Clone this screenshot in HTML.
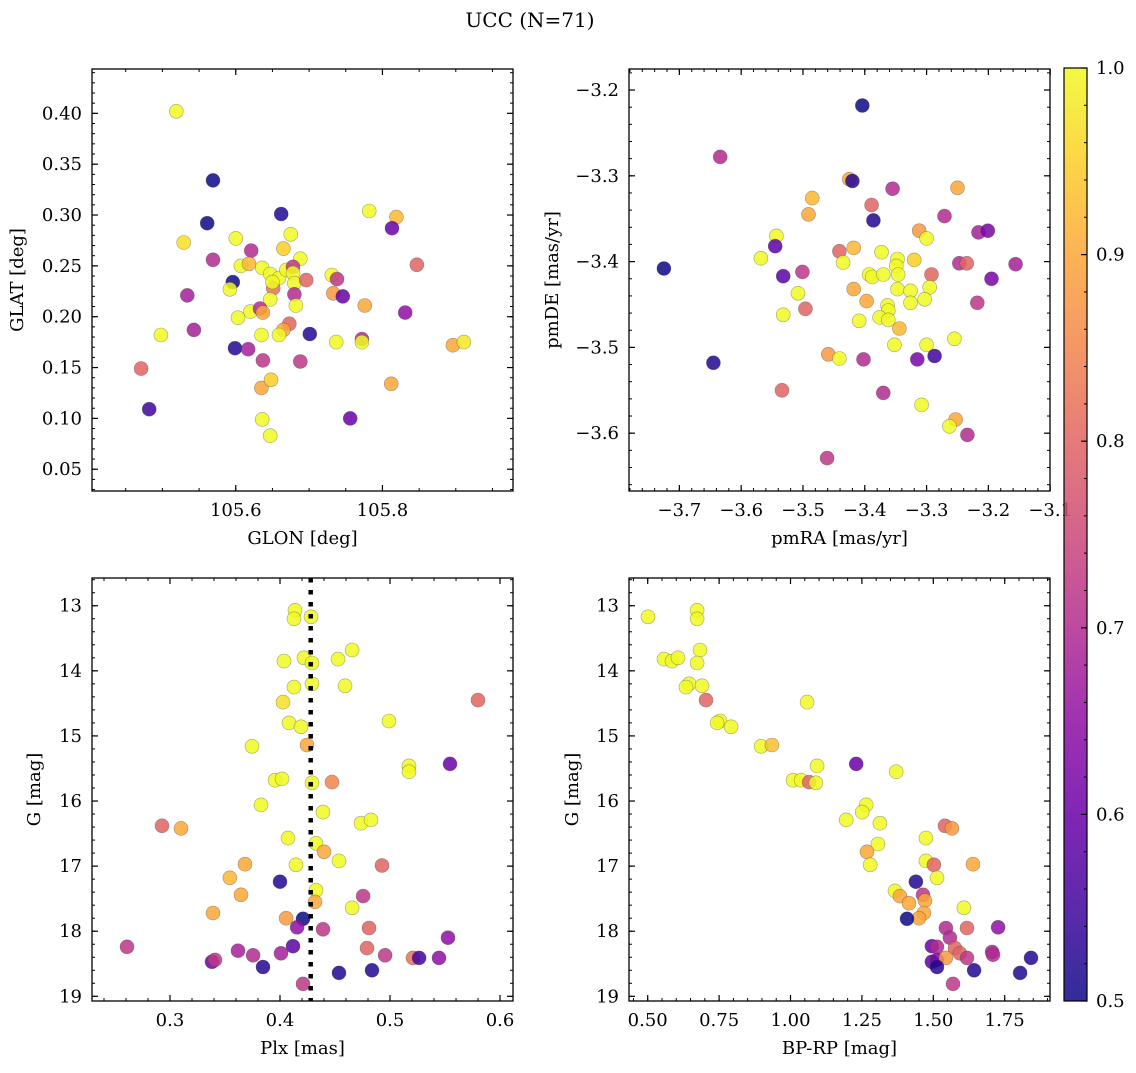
<!DOCTYPE html>
<html><head><meta charset="utf-8"><style>
html,body{margin:0;padding:0;background:#fff;}
svg text{font-family:"DejaVu Serif","Liberation Serif",serif;fill:#000;}
</style></head><body>
<svg id="fig" width="1136" height="1068" viewBox="0 0 1136 1068" xmlns="http://www.w3.org/2000/svg">
<text x="530" y="27" text-anchor="middle" font-size="20">UCC (N=71)</text>
</svg>
<script>
// ---- Panel 1: GLON vs GLAT ----
const glon = [105.519,105.569,105.662,105.561,105.782,105.819,105.813,105.529,105.600,105.675,105.569,105.621,105.665,105.688,105.607,105.618,105.636,105.647,105.659,105.669,105.678,105.678,105.680,105.696,105.651,105.650,105.847,105.596,105.592,105.534,105.647,105.680,105.682,105.731,105.738,105.733,105.746,105.776,105.831,105.620,105.633,105.637,105.603,105.673,105.665,105.659,105.635,105.701,105.543,105.498,105.737,105.772,105.772,105.896,105.911,105.599,105.617,105.637,105.688,105.471,105.635,105.648,105.812,105.482,105.756,105.636,105.647];
const glat = [0.402,0.334,0.301,0.292,0.304,0.298,0.287,0.273,0.277,0.281,0.256,0.265,0.267,0.257,0.250,0.252,0.248,0.242,0.238,0.246,0.249,0.243,0.233,0.236,0.228,0.234,0.251,0.234,0.227,0.221,0.217,0.222,0.211,0.241,0.237,0.223,0.220,0.211,0.204,0.205,0.208,0.204,0.199,0.193,0.187,0.182,0.182,0.183,0.187,0.182,0.175,0.178,0.175,0.172,0.175,0.169,0.168,0.157,0.156,0.149,0.130,0.138,0.134,0.109,0.100,0.099,0.083];
const prob1 = [1.0,0.5,0.52,0.5,1.0,0.92,0.6,0.97,1.0,1.0,0.7,0.7,0.95,1.0,1.0,0.92,1.0,1.0,1.0,1.0,0.72,1.0,1.0,0.8,0.82,1.0,0.8,0.5,1.0,0.68,1.0,0.7,1.0,1.0,0.72,0.88,0.6,0.9,0.65,1.0,0.7,0.9,1.0,0.8,0.9,1.0,1.0,0.52,0.68,1.0,1.0,0.7,1.0,0.9,0.98,0.52,0.68,0.72,0.72,0.8,0.9,0.95,0.9,0.55,0.6,1.0,1.0];
// ---- Panel 2: pmRA vs pmDE ----
const pmra = [-3.404,-3.634,-3.425,-3.420,-3.355,-3.250,-3.485,-3.491,-3.389,-3.386,-3.271,-3.312,-3.300,-3.216,-3.201,-3.543,-3.545,-3.568,-3.441,-3.418,-3.435,-3.373,-3.347,-3.349,-3.320,-3.247,-3.235,-3.156,-3.725,-3.532,-3.501,-3.393,-3.388,-3.370,-3.346,-3.292,-3.195,-3.508,-3.418,-3.347,-3.326,-3.295,-3.303,-3.326,-3.397,-3.363,-3.362,-3.376,-3.362,-3.496,-3.218,-3.532,-3.409,-3.344,-3.352,-3.300,-3.255,-3.315,-3.287,-3.459,-3.441,-3.402,-3.645,-3.534,-3.370,-3.308,-3.253,-3.263,-3.234,-3.461];
const pmde = [-3.218,-3.278,-3.304,-3.306,-3.315,-3.314,-3.326,-3.345,-3.334,-3.352,-3.347,-3.364,-3.373,-3.366,-3.364,-3.370,-3.382,-3.396,-3.388,-3.384,-3.401,-3.389,-3.397,-3.405,-3.398,-3.402,-3.402,-3.403,-3.408,-3.417,-3.412,-3.415,-3.418,-3.415,-3.415,-3.415,-3.420,-3.437,-3.432,-3.432,-3.434,-3.430,-3.444,-3.448,-3.446,-3.451,-3.457,-3.465,-3.468,-3.455,-3.448,-3.462,-3.469,-3.478,-3.497,-3.497,-3.490,-3.514,-3.510,-3.508,-3.513,-3.514,-3.518,-3.550,-3.553,-3.567,-3.584,-3.592,-3.602,-3.629];
const prob2 = [0.5,0.7,0.9,0.52,0.7,0.9,0.92,0.9,0.8,0.52,0.7,0.88,1.0,0.68,0.62,1.0,0.58,1.0,0.8,0.92,1.0,1.0,1.0,1.0,0.95,0.7,0.8,0.68,0.5,0.58,0.72,1.0,1.0,1.0,1.0,0.8,0.62,1.0,0.9,1.0,1.0,1.0,1.0,1.0,0.9,1.0,1.0,1.0,1.0,0.8,0.72,1.0,1.0,0.92,1.0,1.0,1.0,0.62,0.55,0.88,1.0,0.7,0.52,0.8,0.7,1.0,0.9,1.0,0.7,0.72];
// ---- Panel 3: Plx vs G ----
const plx = [0.4136,0.4127,0.4282,0.4655,0.4036,0.4218,0.4291,0.4527,0.4127,0.4291,0.4591,0.4027,0.580,0.4082,0.4191,0.4991,0.3745,0.4245,0.5173,0.5173,0.5545,0.3955,0.4018,0.4291,0.4473,0.3827,0.4391,0.4736,0.4827,0.2927,0.31,0.4073,0.4327,0.44,0.4536,0.3682,0.4145,0.4927,0.3545,0.40,0.4327,0.3645,0.4755,0.4318,0.4655,0.3391,0.4055,0.4209,0.4155,0.4391,0.4809,0.5527,0.2609,0.4118,0.4791,0.3618,0.3755,0.4009,0.3382,0.3409,0.3845,0.4955,0.5209,0.5264,0.5445,0.4536,0.4836,0.4209];
const gmag3 = [13.07,13.20,13.17,13.68,13.85,13.80,13.88,13.82,14.25,14.20,14.23,14.48,14.45,14.80,14.86,14.77,15.16,15.14,15.46,15.55,15.43,15.68,15.66,15.72,15.71,16.06,16.17,16.34,16.29,16.38,16.42,16.57,16.65,16.78,16.92,16.97,16.98,16.99,17.18,17.24,17.37,17.44,17.46,17.55,17.64,17.72,17.80,17.81,17.94,17.97,17.95,18.10,18.24,18.23,18.26,18.30,18.37,18.34,18.47,18.44,18.55,18.37,18.41,18.41,18.41,18.64,18.60,18.81];
const prob3 = [1,1,1,1,1,1,1,1,1,1,1,0.97,0.8,1,1,1,1,0.9,1,1,0.6,1,1,1,0.85,1,1,1,1,0.8,0.9,1,1,0.9,1,0.9,1,0.8,0.92,0.52,1,0.9,0.72,0.9,1,0.9,0.88,0.5,0.65,0.72,0.8,0.65,0.72,0.58,0.8,0.68,0.7,0.68,0.6,0.72,0.52,0.72,0.82,0.55,0.65,0.52,0.52,0.72];
const plxMedian = [0.4279];
// ---- Panel 4: BP-RP vs G ----
const bprp = [0.501,0.673,0.673,0.683,0.557,0.585,0.606,0.673,0.645,0.634,0.690,0.704,0.753,0.743,0.792,0.897,0.935,1.058,1.230,1.370,1.093,1.009,1.037,1.065,1.089,1.265,1.251,1.195,1.313,1.541,1.565,1.474,1.306,1.268,1.279,1.474,1.502,1.639,1.513,1.439,1.366,1.383,1.415,1.464,1.471,1.607,1.467,1.450,1.408,1.544,1.618,1.727,1.558,1.495,1.513,1.576,1.593,1.706,1.709,1.495,1.513,1.544,1.618,1.513,1.643,1.842,1.804,1.569];
const gmag4 = [13.17,13.07,13.20,13.68,13.82,13.85,13.80,13.88,14.20,14.25,14.23,14.45,14.77,14.80,14.86,15.16,15.14,14.48,15.43,15.55,15.46,15.68,15.68,15.71,15.72,16.06,16.17,16.29,16.34,16.38,16.42,16.57,16.66,16.78,16.98,16.92,16.98,16.97,17.18,17.24,17.38,17.46,17.57,17.44,17.53,17.64,17.72,17.80,17.81,17.95,17.95,17.94,18.10,18.23,18.24,18.26,18.34,18.32,18.36,18.47,18.44,18.41,18.41,18.55,18.60,18.41,18.64,18.81];
const prob4 = [1,1,1,1,1,1,1,1,1,1,1,0.8,1,1,1,1,0.93,1,0.6,1,1,1,1,0.8,1,1,1,1,1,0.8,0.88,1,1,0.9,1,1,0.8,0.9,1,0.52,1,0.9,0.9,0.72,0.9,1,0.9,0.9,0.5,0.7,0.8,0.65,0.7,0.6,0.7,0.8,0.8,0.68,0.7,0.58,0.62,0.88,0.72,0.52,0.52,0.52,0.52,0.72];
// ---- Tick arrays ----
const p1xTicks = [105.6,105.8], p1xLabels = ["105.6","105.8"];
const p1yTicks = [0.05,0.10,0.15,0.20,0.25,0.30,0.35,0.40], p1yLabels = ["0.05","0.10","0.15","0.20","0.25","0.30","0.35","0.40"];
const p2xTicks = [-3.7,-3.6,-3.5,-3.4,-3.3,-3.2,-3.1], p2xLabels = ["\u22123.7","\u22123.6","\u22123.5","\u22123.4","\u22123.3","\u22123.2","\u22123.1"];
const p2yTicks = [-3.6,-3.5,-3.4,-3.3,-3.2], p2yLabels = ["\u22123.6","\u22123.5","\u22123.4","\u22123.3","\u22123.2"];
const p3xTicks = [0.3,0.4,0.5,0.6], p3xLabels = ["0.3","0.4","0.5","0.6"];
const gTicks = [13,14,15,16,17,18,19], gLabels = ["13","14","15","16","17","18","19"];
const p4xTicks = [0.50,0.75,1.00,1.25,1.50,1.75], p4xLabels = ["0.50","0.75","1.00","1.25","1.50","1.75"];
const cbTicks = [0.5,0.6,0.7,0.8,0.9,1.0], cbLabels = ["0.5","0.6","0.7","0.8","0.9","1.0"];

const NS = "http://www.w3.org/2000/svg";
const svg = document.getElementById("fig");
function mk(tag, attrs, parent){ const e=document.createElementNS(NS,tag); for(const k in attrs) e.setAttribute(k,attrs[k]); (parent||svg).appendChild(e); return e; }

const plasma = [[0,13,8,135],[0.1,65,4,157],[0.2,106,0,168],[0.3,143,13,164],[0.4,177,42,144],[0.5,204,71,120],[0.6,225,100,98],[0.7,242,132,75],[0.8,252,166,54],[0.9,252,206,37],[1,240,249,33]];
function cmap(v){ let t=(v-0.5)/0.5; t=Math.max(0,Math.min(1,t));
  for(let i=1;i<plasma.length;i++){ if(t<=plasma[i][0]){ const a=plasma[i-1],b=plasma[i]; const f=(t-a[0])/(b[0]-a[0]);
    return "rgb("+[1,2,3].map(j=>Math.round(a[j]+(b[j]-a[j])*f)).join(",")+")"; } }
  return "rgb(240,249,33)"; }

const FS = 18;
function panel(o){
  const sx = v => o.x0 + (v-o.dx0)/(o.dx1-o.dx0)*(o.x1-o.x0);
  const sy = v => o.y0 + (v-o.dy0)/(o.dy1-o.dy0)*(o.y1-o.y0);
  const g = mk("g",{});
  
  
  for(let i=0;i<o.xs.length;i++){
    const c = mk("circle",{cx:sx(o.xs[i]).toFixed(1),cy:sy(o.ys[i]).toFixed(1),r:7,fill:cmap(o.ps[i]),"fill-opacity":0.85,stroke:"#3a3a3a","stroke-opacity":0.45,"stroke-width":0.6},g);
    
    
  }
  if(o.vline){ const L=mk("line",{x1:sx(o.vline),x2:sx(o.vline),y1:o.y0,y2:o.y1,stroke:"#000","stroke-width":4.5,"stroke-dasharray":"4.5,7.5"},g);
    
     }
  const f = mk("rect",{x:o.x0,y:o.y0,width:o.x1-o.x0,height:o.y1-o.y0,fill:"none",stroke:"#000","stroke-width":1.3},g);
  
  
  const lo = Math.min(o.dx0,o.dx1), hi = Math.max(o.dx0,o.dx1);
  for(let v=Math.ceil(lo/o.mx)*o.mx; v<=hi; v+=o.mx){ const X=sx(v);
    mk("line",{x1:X,x2:X,y1:o.y1,y2:o.y1-3,stroke:"#000","stroke-width":1},g);
    mk("line",{x1:X,x2:X,y1:o.y0,y2:o.y0+3,stroke:"#000","stroke-width":1},g); }
  const ylo=Math.min(o.dy0,o.dy1), yhi=Math.max(o.dy0,o.dy1);
  for(let v=Math.ceil(ylo/o.my)*o.my; v<=yhi; v+=o.my){ const Y=sy(v);
    mk("line",{x1:o.x0,x2:o.x0+3,y1:Y,y2:Y,stroke:"#000","stroke-width":1},g);
    mk("line",{x1:o.x1,x2:o.x1-3,y1:Y,y2:Y,stroke:"#000","stroke-width":1},g); }
  o.xt.forEach((v,i)=>{ const X=sx(v);
    mk("line",{x1:X,x2:X,y1:o.y1,y2:o.y1-6,stroke:"#000","stroke-width":1.2},g);
    mk("line",{x1:X,x2:X,y1:o.y0,y2:o.y0+6,stroke:"#000","stroke-width":1.2},g);
    const t=mk("text",{x:X,y:o.y1+25,"text-anchor":"middle","font-size":FS},g); t.textContent=o.xl[i];
    
     });
  o.yt.forEach((v,i)=>{ const Y=sy(v);
    mk("line",{x1:o.x0,x2:o.x0+6,y1:Y,y2:Y,stroke:"#000","stroke-width":1.2},g);
    mk("line",{x1:o.x1,x2:o.x1-6,y1:Y,y2:Y,stroke:"#000","stroke-width":1.2},g);
    const t=mk("text",{x:o.x0-10,y:Y+6,"text-anchor":"end","font-size":FS},g); t.textContent=o.yl[i];
    
     });
  const xt=mk("text",{x:(o.x0+o.x1)/2,y:o.y1+53,"text-anchor":"middle","font-size":FS},g); xt.textContent=o.xlabel;
  
  
  const yx=o.ylx, yy=(o.y0+o.y1)/2;
  const yt=mk("text",{x:yx,y:yy,"text-anchor":"middle","font-size":FS,transform:"rotate(-90 "+yx+" "+yy+")"},g); yt.textContent=o.ylabel;
  
  
}

panel({name:"glon-glat-panel",x0:92,x1:513,y0:69,y1:491,dx0:105.404,dx1:105.978,dy0:0.4436,dy1:0.0286,
  xs:glon,ys:glat,ps:prob1,xt:p1xTicks,xl:p1xLabels,yt:p1yTicks,yl:p1yLabels,mx:0.05,my:0.01,xlabel:"GLON [deg]",ylabel:"GLAT [deg]",ylx:23});
panel({name:"pm-panel",x0:629,x1:1050,y0:69,y1:491,dx0:-3.7815,dx1:-3.1003,dy0:-3.1755,dy1:-3.6674,
  xs:pmra,ys:pmde,ps:prob2,xt:p2xTicks,xl:p2xLabels,yt:p2yTicks,yl:p2yLabels,mx:0.02,my:0.02,xlabel:"pmRA [mas/yr]",ylabel:"pmDE [mas/yr]",ylx:558});
panel({name:"plx-g-panel",x0:92,x1:513,y0:578,y1:1001,dx0:0.2291,dx1:0.6118,dy0:12.574,dy1:19.072,
  xs:plx,ys:gmag3,ps:prob3,xt:p3xTicks,xl:p3xLabels,yt:gTicks,yl:gLabels,mx:0.02,my:0.2,xlabel:"Plx [mas]",ylabel:"G [mag]",ylx:40,vline:plxMedian[0]});
panel({name:"cmd-panel",x0:629,x1:1050,y0:578,y1:1001,dx0:0.4345,dx1:1.9086,dy0:12.574,dy1:19.072,
  xs:bprp,ys:gmag4,ps:prob4,xt:p4xTicks,xl:p4xLabels,yt:gTicks,yl:gLabels,mx:0.05,my:0.2,xlabel:"BP-RP [mag]",ylabel:"G [mag]",ylx:578});

// colorbar
const defs = mk("defs",{});
const lg = mk("linearGradient",{id:"cbg",x1:0,y1:1,x2:0,y2:0},defs);
plasma.forEach(s=>mk("stop",{offset:s[0],"stop-color":"rgb("+s[1]+","+s[2]+","+s[3]+")"},lg));
const cb = mk("g",{});


const cbx0=1064, cbx1=1087, cby0=68, cby1=1001;
mk("rect",{x:cbx0,y:cby0,width:cbx1-cbx0,height:cby1-cby0,fill:"url(#cbg)","fill-opacity":0.85},cb);
mk("rect",{x:cbx0,y:cby0,width:cbx1-cbx0,height:cby1-cby0,fill:"none",stroke:"#000","stroke-width":1.2},cb);
const cy = v => cby1 - (v-0.5)/0.5*(cby1-cby0);
for(let k=0;k<=25;k++){ const v=0.5+k*0.02; mk("line",{x1:cbx1,x2:cbx1-3,y1:cy(v),y2:cy(v),stroke:"#000","stroke-width":1},cb); }
cbTicks.forEach((v,i)=>{ mk("line",{x1:cbx1,x2:cbx1-6,y1:cy(v),y2:cy(v),stroke:"#000","stroke-width":1.2},cb);
  const t=mk("text",{x:1096,y:cy(v)+6,"font-size":FS},cb); t.textContent=cbLabels[i];
  
   });
</script>
</body></html>
